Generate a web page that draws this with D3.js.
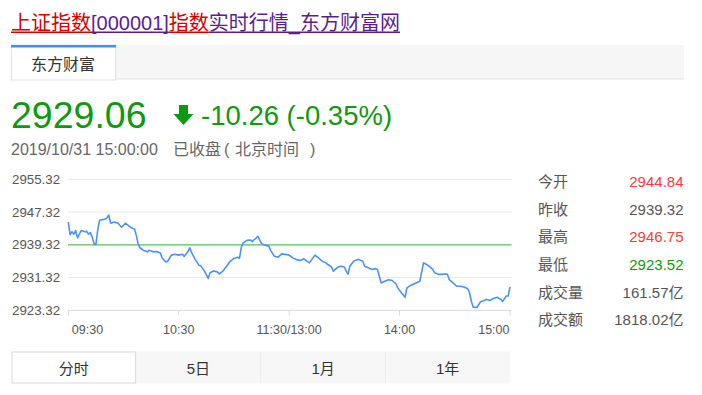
<!DOCTYPE html>
<html><head><meta charset="utf-8">
<script src="https://cdn.jsdelivr.net/npm/d3@7"></script>
<style>
html,body{margin:0;padding:0;background:#fff;}
svg{display:block;font-family:"Liberation Sans",Arial,"Noto Sans CJK SC",sans-serif;}
</style></head><body>
<svg id="c" width="702" height="395"></svg>
<script>
// Intraday series: trading-minute offset from 09:30 (lunch break removed) and index level
const minutes = [0,1,2,3,4,5,6,7,9,10,11,12,13,14,15,16,17,19,20,21,22,23,25,27,29,31,33,35,36,37,38,39,41,43,44,46,48,50,51,53,54,56,58,60,62,63,65,66,67,69,71,72,74,76,77,79,81,82,84,86,88,90,92,93,94,95,97,99,100,101,102,103,105,107,109,110,112,114,116,119,120,122,124,126,128,130,131,134,136,138,140,141,143,144,146,148,150,151,152,153,155,157,158,160,161,163,165,167,168,170,172,174,176,178,179,181,183,184,186,188,189,191,193,194,196,198,199,201,203,205,206,207,209,211,213,215,217,218,219,220,222,224,226,227,229,231,233,235,236,238,239,240];
const prices = [2944.84,2941.8,2942.5,2941.9,2942.8,2941.0,2941.9,2942.8,2942.5,2942.6,2941.9,2942.3,2941.2,2939.6,2939.4,2943.0,2945.3,2945.5,2945.6,2945.9,2946.6,2944.6,2944.9,2944.6,2943.6,2944.6,2943.9,2943.3,2943.2,2941.5,2939.4,2938.6,2937.9,2937.6,2938.0,2937.6,2937.7,2937.3,2936.1,2935.1,2935.3,2936.8,2937.0,2936.8,2937.0,2936.5,2937.6,2938.6,2937.4,2935.7,2934.3,2934.2,2932.9,2931.1,2932.5,2932.9,2932.7,2932.2,2932.9,2934.1,2935.3,2936.0,2936.3,2936.0,2938.7,2939.8,2940.4,2940.5,2940.1,2940.6,2940.9,2941.4,2939.6,2939.2,2939.0,2937.9,2936.5,2936.3,2937.1,2936.9,2936.8,2936.1,2935.7,2935.5,2935.9,2935.2,2934.9,2936.8,2936.1,2935.3,2934.9,2934.5,2933.9,2932.9,2933.7,2934.1,2933.9,2932.9,2932.2,2934.1,2935.3,2935.7,2935.7,2935.3,2934.1,2933.7,2933.3,2933.5,2933.3,2930.0,2930.4,2930.8,2930.6,2929.8,2928.8,2927.6,2926.5,2928.8,2929.4,2929.8,2930.0,2930.4,2934.9,2934.7,2934.1,2933.3,2932.5,2932.1,2932.1,2932.2,2932.1,2930.8,2930.0,2929.2,2929.2,2929.0,2928.6,2927.6,2925.5,2924.1,2924.0,2925.4,2925.7,2926.0,2925.7,2926.2,2926.5,2926.0,2925.5,2926.8,2926.8,2929.06];
const prevClose = 2939.32;
const yTicks = [2923.32, 2931.32, 2939.32, 2947.32, 2955.32];
const xTickMinutes = [0, 60, 120, 180, 240];
const xTickLabels = ["09:30", "10:30", "11:30/13:00", "14:00", "15:00"];
const statLabels = ["今开", "昨收", "最高", "最低", "成交量", "成交额"];
const statValues = ["2944.84", "2939.32", "2946.75", "2923.52", "161.57亿", "1818.02亿"];
const periodTabs = ["分时", "5日", "1月", "1年"];
const lastPrice = "2929.06";
const changeText = "-10.26 (-0.35%)";
const timeText = "2019/10/31 15:00:00";
const titleParts = ["上证指数", "[000001]", "指数", "实时行情_东方财富网"];
const titleHighlight = [true, false, true, false];

const RED = "#f23d3d", GREEN = "#109910", LINK = "#5a1e8c", HL = "#d40000";
const svg = d3.select("#c");

// ---- page title (link with highlighted keywords) ----
const title = svg.append("text").attr("x", 11).attr("y", 30).style("font-size", "20px");
titleParts.forEach((p, i) => {
  title.append("tspan").text(p).attr("fill", titleHighlight[i] ? HL : LINK);
});
let ux = 11;
title.selectAll("tspan").each(function(d, i) {
  const w = this.getComputedTextLength();
  svg.append("rect").attr("x", ux).attr("y", 31.5).attr("width", w).attr("height", 1.5)
    .attr("fill", titleHighlight[i] ? HL : LINK);
  ux += w;
});

// ---- source tab bar ----
svg.append("rect").attr("x", 11).attr("y", 45).attr("width", 673).attr("height", 34).attr("fill", "#f6f6f6");
svg.append("rect").attr("x", 11).attr("y", 78.5).attr("width", 673).attr("height", 1).attr("fill", "#e2e2e2");
svg.append("rect").attr("x", 11.5).attr("y", 45).attr("width", 104).attr("height", 35).attr("fill", "#fff")
  .attr("stroke", "#e0e0e0");
svg.append("rect").attr("x", 11).attr("y", 45).attr("width", 105).attr("height", 2.5).attr("fill", "#3a96ec");
svg.append("text").attr("x", 63).attr("y", 70).attr("text-anchor", "middle").attr("fill", "#333")
  .style("font-size", "16px").text("东方财富");

// ---- quote header ----
svg.append("text").attr("x", 11).attr("y", 128).attr("fill", GREEN).style("font-size", "37.5px").text(lastPrice);
svg.append("path").attr("fill", GREEN)
  .attr("d", "M179,105 H188 V114 H193.5 L183.5,125 L173.5,114 H179 Z");
svg.append("text").attr("x", 201).attr("y", 125).attr("fill", GREEN).style("font-size", "27.5px").text(changeText);
const sub = svg.append("g").attr("fill", "#666").style("font-size", "16px");
sub.append("text").attr("x", 11).attr("y", 155).text(timeText);
sub.append("text").attr("x", 173).attr("y", 155).text("已收盘");
sub.append("text").attr("x", 224).attr("y", 155).text("(");
sub.append("text").attr("x", 235).attr("y", 155).text("北京时间");
sub.append("text").attr("x", 310).attr("y", 155).text(")");

// ---- intraday chart ----
const x = d3.scaleLinear().domain([0, 240]).range([68.3, 510]);
const y = d3.scaleLinear().domain([yTicks[0], yTicks[yTicks.length - 1]]).range([310.3, 179.3]);

const grid = svg.append("g");
grid.selectAll("line").data(yTicks).join("line")
  .attr("x1", 68).attr("x2", 511.5)
  .attr("y1", d => y(d)).attr("y2", d => y(d))
  .attr("stroke", d => d === yTicks[0] ? "#d8d8d8" : "#e8e8e8").attr("stroke-width", 1);

svg.append("g").selectAll("text").data(yTicks).join("text")
  .attr("x", 12).attr("y", d => y(d) + 4.6).attr("fill", "#555").style("font-size", "13.3px")
  .text(d => d.toFixed(2));

// x axis ticks + labels
svg.append("g").selectAll("line").data(xTickMinutes).join("line")
  .attr("x1", d => x(d)).attr("x2", d => x(d)).attr("y1", y(yTicks[0])).attr("y2", y(yTicks[0]) + 5)
  .attr("stroke", "#d8d8d8");
svg.append("g").selectAll("text").data(xTickMinutes).join("text")
  .attr("x", (d, i) => i === 0 ? x(d) + 3.5 : (i === xTickMinutes.length - 1 ? x(d) - 0.5 : x(d)))
  .attr("y", 333.5)
  .attr("text-anchor", (d, i) => i === 0 ? "start" : (i === xTickMinutes.length - 1 ? "end" : "middle"))
  .attr("fill", "#555").style("font-size", "12.5px")
  .text((d, i) => xTickLabels[i]);

// previous close reference line
svg.append("line").attr("x1", 68).attr("x2", 511.5).attr("y1", y(prevClose)).attr("y2", y(prevClose))
  .attr("stroke", "#5cc55c").attr("stroke-width", 1.3);

// price line
const pts = minutes.map((m, i) => [m, prices[i]]);
svg.append("path").datum(pts)
  .attr("fill", "none").attr("stroke", "#4b92f3").attr("stroke-width", 1.6).attr("stroke-linejoin", "round")
  .attr("d", d3.line().x(d => x(d[0])).y(d => y(d[1])));

// ---- statistics panel ----
const rowY = d3.scaleLinear().domain([0, statLabels.length - 1]).range([181.7, 320]);
const stats = svg.append("g").style("font-size", "15px");
stats.selectAll("text.lbl").data(statLabels).join("text").attr("class", "lbl")
  .attr("x", 538).attr("y", (d, i) => rowY(i) + 5.3).attr("fill", "#555").text(d => d);
stats.selectAll("text.val").data(statValues).join("text").attr("class", "val")
  .attr("x", 683.5).attr("y", (d, i) => rowY(i) + 5.3).attr("text-anchor", "end")
  .attr("fill", (d, i) => {
    if (i > 3) return "#555";
    const v = +d;
    return v > prevClose ? RED : (v < prevClose ? GREEN : "#555");
  })
  .text(d => d);

// ---- period tabs ----
const band = d3.scaleBand().domain(periodTabs).range([11.5, 510]);
const tabs = svg.append("g");
tabs.selectAll("rect").data(periodTabs).join("rect")
  .attr("x", d => band(d)).attr("y", 351.5).attr("width", band.bandwidth()).attr("height", 32)
  .attr("fill", (d, i) => i === 0 ? "#fff" : "#f7f7f7");
tabs.selectAll("line").data(periodTabs.slice(2)).join("line")
  .attr("x1", d => band(d)).attr("x2", d => band(d)).attr("y1", 351.5).attr("y2", 383.5)
  .attr("stroke", "#ececec");
tabs.append("rect").attr("x", band(periodTabs[0]) + 0.5).attr("y", 352).attr("width", band.bandwidth() - 1)
  .attr("height", 31).attr("fill", "none").attr("stroke", "#d9d9d9");
tabs.selectAll("text").data(periodTabs).join("text")
  .attr("x", d => band(d) + band.bandwidth() / 2).attr("y", 373.5).attr("text-anchor", "middle")
  .attr("fill", "#333").style("font-size", "15px").text(d => d);
</script>
</body></html>
